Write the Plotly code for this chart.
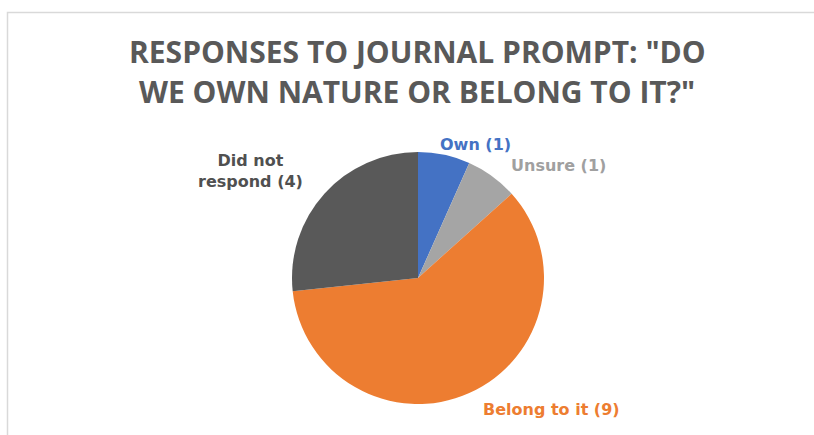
import plotly.graph_objects as go

labels = ["Own", "Unsure", "Belong to it", "Did not respond"]
values = [1, 1, 9, 4]
colors = ["#4472C4", "#A5A5A5", "#ED7D31", "#595959"]
label_colors = ["#4472C4", "#A0A0A0", "#ED7D31", "#505050"]
title_lines = ['RESPONSES TO JOURNAL PROMPT: "DO', 'WE OWN NATURE OR BELONG TO IT?"']

W, H = 814, 435
cx, cy, r = 418, 278, 126  # pie centre / radius in px

fig = go.Figure()
fig.add_trace(go.Pie(
    labels=labels, values=values, sort=False, direction="clockwise", rotation=0,
    marker=dict(colors=colors, line=dict(width=0)),
    textinfo="none", hoverinfo="label+value", showlegend=False,
    domain=dict(x=[(cx - r) / W, (cx + r) / W], y=[(H - cy - r) / H, (H - cy + r) / H]),
))

# outside data labels (text built from the data)
label_pos = [(476, 145), (558, 165), (551, 409), (250, 171)]
label_text = [f"{l} ({v})" for l, v in zip(labels, values)]
label_text[3] = "Did not<br>respond (4)"
for (x, y), t, c in zip(label_pos, label_text, label_colors):
    fig.add_annotation(x=x / W, y=1 - y / H, xref="paper", yref="paper", text=t,
                       showarrow=False, xanchor="center", yanchor="middle", align="center",
                       font=dict(family="DejaVu Sans", size=16, color=c, weight="bold"))

# title lines
for y, t in zip([52, 91], title_lines):
    fig.add_annotation(x=417 / W, y=1 - y / H, xref="paper", yref="paper", text=t,
                       showarrow=False, xanchor="center", yanchor="middle",
                       font=dict(family="Open Sans", size=30, color="#595959", weight="bold"))

# chart-area border (left and top visible)
fig.add_shape(type="rect", xref="paper", yref="paper",
              x0=7.5 / W, x1=1.05, y0=-0.05, y1=1 - 12.5 / H,
              line=dict(color="#D9D9D9", width=1.5), fillcolor="rgba(0,0,0,0)", layer="below")

fig.update_layout(width=W, height=H, margin=dict(l=0, r=0, t=0, b=0),
                  paper_bgcolor="white", plot_bgcolor="white")
fig.write_html("out.html")
